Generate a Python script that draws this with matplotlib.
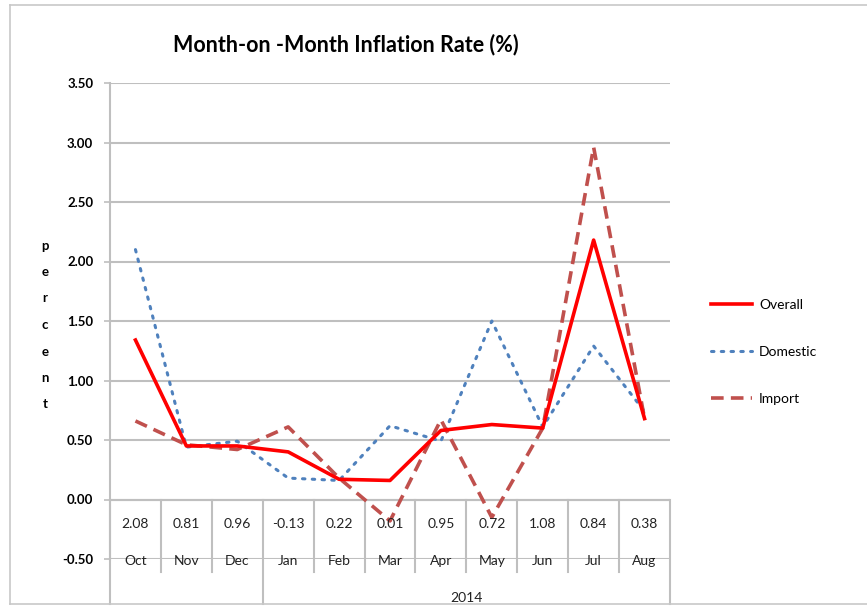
import matplotlib
matplotlib.use('Agg')
import matplotlib.pyplot as plt
from matplotlib.lines import Line2D

plt.rcParams['font.family'] = ['Lato', 'DejaVu Sans']

months = ['Oct', 'Nov', 'Dec', 'Jan', 'Feb', 'Mar', 'Apr', 'May', 'Jun', 'Jul', 'Aug']
values_row = ['2.08', '0.81', '0.96', '-0.13', '0.22', '0.01', '0.95', '0.72', '1.08', '0.84', '0.38']
year_label = '2014'
year_start = 3  # index of Jan

overall = [1.34, 0.45, 0.45, 0.40, 0.17, 0.16, 0.58, 0.63, 0.60, 2.18, 0.68]
domestic = [2.10, 0.44, 0.49, 0.18, 0.16, 0.62, 0.49, 1.50, 0.61, 1.29, 0.74]
imports = [0.66, 0.46, 0.42, 0.61, 0.18, -0.18, 0.67, -0.15, 0.60, 2.96, 0.68]

W, H = 867, 606
fig = plt.figure(figsize=(W / 100, H / 100), dpi=100)
# axes: x 110..670 px, y 83..559 px
ax = fig.add_axes([110 / W, (H - 559) / H, 560 / W, 476 / H])

grid = '#bfbfbf'
x = list(range(len(months)))
ax.plot(x, overall, color='#ff0000', lw=2.6, label='Overall', zorder=4)
ax.plot(x, domestic, color='#4f81bd', lw=2.2, ls=(0, (0.8, 2.4)), dash_capstyle='round',
        label='Domestic', zorder=3)
ax.plot(x, imports, color='#c0504d', lw=2.6, ls=(0, (3.5, 2)), label='Import', zorder=3)

ax.set_xlim(-0.5, len(months) - 0.5)
ax.set_ylim(-0.5, 3.5)
ax.set_yticks([-0.5, 0, 0.5, 1, 1.5, 2, 2.5, 3, 3.5])
ax.set_yticklabels(['%.2f' % v for v in ax.get_yticks()], fontweight='bold', fontsize=9.5)
ax.tick_params(axis='y', length=4, color=grid, width=1.2, pad=8)
ax.set_xticks([])
ax.grid(axis='y', color=grid, lw=1.5)
ax.set_axisbelow(True)
for s in ['top', 'right', 'bottom']:
    ax.spines[s].set_visible(False)
ax.spines['left'].set_color(grid)
ax.spines['left'].set_linewidth(1.5)

# category axis at zero with multi-level labels
ax.axhline(0, color=grid, lw=1.5, zorder=1)
px = 119.0  # pixels per unit
y_short = -0.5 - 13 / px
y_bottom = -0.5 - 45 / px
for i in range(len(months) + 1):
    xb = i - 0.5
    yend = y_bottom if i in (0, year_start, len(months)) else y_short
    ax.plot([xb, xb], [0, yend], color=grid, lw=1.5, clip_on=False, zorder=1)
for i, (v, m) in enumerate(zip(values_row, months)):
    ax.text(i, -24 / px, v, ha='center', va='center', fontsize=10, color='#222222', zorder=5)
    ax.text(i, -0.5 - 2 / px, m, ha='center', va='center', fontsize=10, color='#222222', zorder=5)
ax.text((year_start - 0.5 + len(months) - 0.5) / 2, -0.5 - 39 / px, year_label,
        ha='center', va='center', fontsize=10, color='#222222', clip_on=False)

# y label as stacked letters
fig.text(45 / W, 1 - 325 / H, '\n'.join('percent'), ha='center', va='center',
         fontsize=9.5, fontweight='bold', linespacing=2.45)

fig.text(346 / W, 1 - 45 / H, 'Month-on -Month Inflation Rate (%)', ha='center', va='center',
         fontsize=15.5, fontweight='bold')

leg = ax.legend(loc='upper left', bbox_to_anchor=(698 / W, 1 - 286 / H), bbox_transform=fig.transFigure,
                frameon=False, fontsize=10, handlelength=3.0, labelspacing=2.55, handletextpad=0.5)

# chart frame
fig.add_artist(Line2D([10 / W, 10 / W], [1 - 5 / H, 1 - 604 / H], color='#c8c8c8', lw=1.2))
fig.add_artist(Line2D([10 / W, 1], [1 - 5 / H, 1 - 5 / H], color='#c8c8c8', lw=1.2))
fig.add_artist(Line2D([10 / W, 1], [1 - 604 / H, 1 - 604 / H], color='#c8c8c8', lw=1.2))

fig.savefig('out.png', dpi=100)
